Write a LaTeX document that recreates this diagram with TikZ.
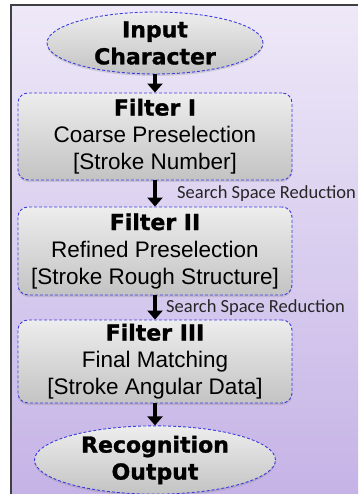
\documentclass[tikz,border=0pt]{standalone}
\usepackage{fontspec}
\setmainfont{Liberation Sans}
\newfontfamily\boldfnt{DejaVu Sans}[BoldFont={DejaVu Sans Bold}, BoldFeatures={FakeBold=1.2}]
\newfontfamily\lblfnt{Carlito}
\usetikzlibrary{shapes.geometric,arrows.meta,shadows}
\definecolor{bgtop}{HTML}{EEE9F8}
\definecolor{bgbot}{HTML}{C5B3E6}
\definecolor{dashblue}{HTML}{3B3BE0}
\definecolor{boxtop}{HTML}{EDEDED}
\definecolor{boxbot}{HTML}{C3C3C3}
\tikzset{
  stagebox/.style={rectangle, rounded corners=10pt, draw=dashblue, line width=0.9pt,
    dash pattern=on 3pt off 2pt, top color=boxtop, bottom color=boxbot,
    drop shadow={opacity=0.25, shadow xshift=0pt, shadow yshift=-2pt},
    align=center, inner sep=0pt, font=\fontsize{22.5}{27}\selectfont},
  endell/.style={ellipse, draw=dashblue, line width=0.9pt,
    dash pattern=on 3pt off 2pt, top color=boxtop, bottom color=boxbot,
    drop shadow={opacity=0.25, shadow xshift=0pt, shadow yshift=-2pt},
    align=center, inner sep=0pt, font=\boldfnt\bfseries\fontsize{22}{27}\selectfont},
  flow/.style={line width=4.5pt, -{Triangle[length=9pt,width=15pt]}},
  reduce/.style={anchor=base west, inner sep=0pt, font=\lblfnt\fontsize{18.5}{20}\selectfont, text=black!85}
}
\newcommand{\ttl}[1]{{\boldfnt\bfseries\fontsize{22}{27}\selectfont #1}}
\begin{document}
\begin{tikzpicture}[x=1pt,y=-1pt]
\useasboundingbox (0,0) rectangle (358,494);
\fill[white] (0,0) rectangle (358,494);
\shade[top color=bgtop, bottom color=bgbot] (11,5) rectangle (358,494);
\draw[black!75, line width=1.2pt] (11,494) -- (11,5) -- (358,5);

\node[endell, minimum width=216pt, minimum height=62pt] (inp) at (155,43) {Input\\Character};
\node[stagebox, minimum width=274pt, minimum height=87pt] (f1) at (155,136.5)
  {\ttl{Filter I}\\Coarse Preselection\\{[}Stroke Number]};
\node[stagebox, minimum width=274pt, minimum height=88pt] (f2) at (155,251)
  {\ttl{Filter II}\\Refined Preselection\\{[}Stroke Rough Structure]};
\node[stagebox, minimum width=274pt, minimum height=83pt] (f3) at (155,361.5)
  {\ttl{Filter III}\\Final Matching\\{[}Stroke Angular Data]};
\node[endell, minimum width=241pt, minimum height=64pt] (out) at (155,460) {Recognition\\Output};

\draw[flow] (inp.south) -- (f1.north);
\draw[flow] (f1.south) -- (f2.north);
\draw[flow] (f2.south) -- (f3.north);
\draw[flow] (f3.south) -- (out.north);

\node[reduce] (r1) at (177,198) {Search Space Reduction};
\node[reduce] (r2) at (166,312) {Search Space Reduction};
\end{tikzpicture}
\end{document}
